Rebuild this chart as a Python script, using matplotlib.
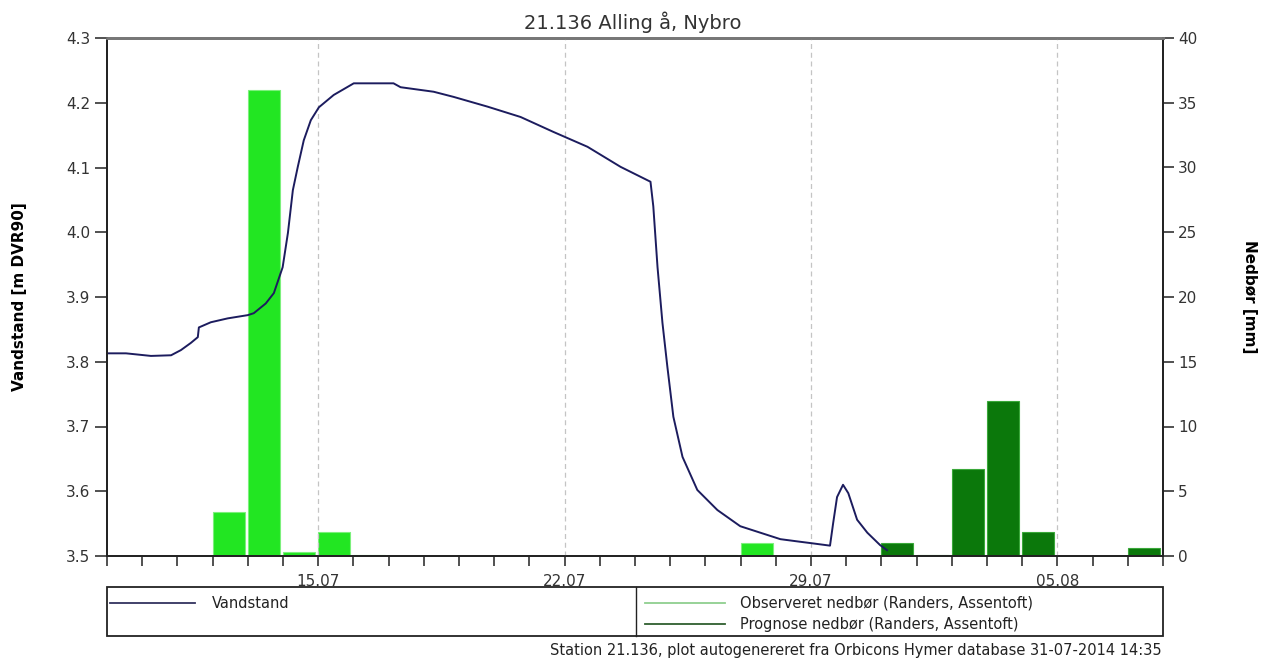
import datetime as dt
import matplotlib
matplotlib.use("Agg")
from matplotlib import pyplot as plt
import matplotlib.dates as mdates
from matplotlib.lines import Line2D
from matplotlib.patches import Rectangle

# Water level (days after 09.07.2014 00:00, m DVR90)
level_days = [0.03, 0.54, 1.25, 1.82, 2.10, 2.38, 2.58, 2.61, 2.95, 3.43, 4.00, 4.17,
              4.51, 4.74, 4.99, 5.14, 5.28, 5.42, 5.59, 5.79, 6.02, 6.44, 7.01, 8.14,
              8.34, 9.28, 9.85, 10.81, 11.75, 12.68, 13.65, 14.59, 15.44, 15.52, 15.64,
              15.78, 15.92, 16.09, 16.35, 16.77, 17.34, 17.99, 18.56, 19.13, 19.69,
              19.98, 20.54, 20.63, 20.74, 20.91, 21.06, 21.31, 21.60, 21.96, 22.16]
level = [3.813, 3.813, 3.809, 3.810, 3.818, 3.829, 3.838, 3.853, 3.861, 3.867, 3.872, 3.875,
         3.890, 3.906, 3.946, 3.999, 4.065, 4.101, 4.142, 4.173, 4.193, 4.212, 4.230, 4.230,
         4.224, 4.217, 4.209, 4.194, 4.178, 4.155, 4.132, 4.101, 4.078, 4.040, 3.946,
         3.860, 3.792, 3.715, 3.653, 3.602, 3.571, 3.546, 3.536, 3.526, 3.522,
         3.520, 3.516, 3.551, 3.591, 3.610, 3.597, 3.556, 3.536, 3.517, 3.509]

# daily precipitation [mm]
obs_dates = ["2014-07-12", "2014-07-13", "2014-07-14", "2014-07-15", "2014-07-16",
             "2014-07-26", "2014-07-27"]
obs_mm = [3.4, 36.0, 0.3, 1.85, 0.1, 0.1, 1.0]
prog_dates = ["2014-07-31", "2014-08-01", "2014-08-02", "2014-08-03", "2014-08-04",
              "2014-08-07"]
prog_mm = [1.0, 0.1, 6.7, 12.0, 1.85, 0.6]

week_labels = ["15.07", "22.07", "29.07", "05.08"]

start = dt.datetime(2014, 7, 9)
end = dt.datetime(2014, 8, 8)
t_level = [start + dt.timedelta(days=d) for d in level_days]
t_obs = [dt.datetime.strptime(s, "%Y-%m-%d") for s in obs_dates]
t_prog = [dt.datetime.strptime(s, "%Y-%m-%d") for s in prog_dates]
t_weeks = [dt.datetime.strptime(s + ".2014", "%d.%m.%Y") for s in week_labels]

fig = plt.figure(figsize=(12.66, 6.61), dpi=100)
ax = fig.add_axes([107 / 1266, 105 / 661, 1056 / 1266, 518 / 661])
ax2 = ax.twinx()

bar_w = 0.91
ax2.bar(t_obs, obs_mm, width=bar_w, align="edge", color="#22e622",
        edgecolor="#7cf07c", linewidth=0.8, zorder=1)
ax2.bar(t_prog, prog_mm, width=bar_w, align="edge", color="#0b780b",
        edgecolor="#3aa83a", linewidth=0.8, zorder=1)
ax2.set_ylim(0, 40)
ax2.set_yticks(range(0, 41, 5))

ax.set_zorder(ax2.get_zorder() + 1)
ax.patch.set_visible(False)
ax.plot(t_level, level, color="#1c1c5e", linewidth=1.4)
ax.set_ylim(3.5, 4.3)
ax.set_yticks([3.5 + 0.1 * i for i in range(9)])
ax.set_yticklabels([f"{3.5 + 0.1 * i:.1f}" for i in range(9)])
ax.set_xlim(start, end)

ax.set_xticks(t_weeks)
ax.set_xticklabels(week_labels)
ax.xaxis.set_minor_locator(mdates.DayLocator())
for t in t_weeks:
    ax.axvline(t, color="#c4c4c4", linestyle=(0, (4, 3)), linewidth=0.9, zorder=0)

tick_col = "#333333"
ax.tick_params(axis="x", which="both", direction="out", length=7, width=1.2,
               colors=tick_col, labelsize=11, pad=6)
ax.tick_params(axis="y", direction="out", length=9, width=1.2, colors=tick_col,
               labelsize=11, pad=3)
ax2.tick_params(axis="y", direction="out", length=8, width=1.2, colors=tick_col,
                labelsize=11, pad=3)

for a in (ax, ax2):
    for side in ("left", "right", "bottom"):
        a.spines[side].set_color("#222222")
        a.spines[side].set_linewidth(1.3)
    a.spines["top"].set_color("#777777")
    a.spines["top"].set_linewidth(2.0)

ax.set_ylabel("Vandstand [m DVR90]", fontsize=11, fontweight="bold")
ax.yaxis.set_label_coords(-87 / 1056, 0.5)
ax.yaxis.label.set_va("center")
ax2.set_ylabel("Nedbør [mm]", fontsize=11, fontweight="bold", rotation=-90)
ax2.yaxis.set_label_coords(1 + 87 / 1056, 0.5)
ax2.yaxis.label.set_va("center")

fig.text(0.5, 1 - 22 / 661, "21.136 Alling å, Nybro", ha="center", va="center",
         fontsize=14, color="#333333")

# legend box
def px(x, y):
    return x / 1266, 1 - y / 661

x0, y0 = px(107, 636)
x1, y1 = px(1163, 587)
fig.patches.append(Rectangle((x0, y0), x1 - x0, y1 - y0, transform=fig.transFigure,
                             fill=False, edgecolor="#222222", linewidth=1.3))
dx, _ = px(636, 0)
fig.lines.append(Line2D([dx, dx], [y0, y1], transform=fig.transFigure,
                        color="#222222", linewidth=1.0))
legend_items = [((110, 195, 603), "#33335f", "Vandstand", 212),
                ((645, 725, 603), "#8fcf8f", "Observeret nedbør (Randers, Assentoft)", 740),
                ((645, 725, 624), "#2f5f2f", "Prognose nedbør (Randers, Assentoft)", 740)]
for (xa, xb, yy), col, label, tx in legend_items:
    (fa, fy), (fb, _) = px(xa, yy), px(xb, yy)
    fig.lines.append(Line2D([fa, fb], [fy, fy], transform=fig.transFigure,
                            color=col, linewidth=1.3))
    ftx, fty = px(tx, yy)
    fig.text(ftx, fty, label, ha="left", va="center", fontsize=10.5, color="#222222")

fx, fy = px(1162, 650)
fig.text(fx, fy, "Station 21.136, plot autogenereret fra Orbicons Hymer database 31-07-2014 14:35",
         ha="right", va="center", fontsize=10.5, color="#222222")

fig.savefig("out.png", dpi=100)
